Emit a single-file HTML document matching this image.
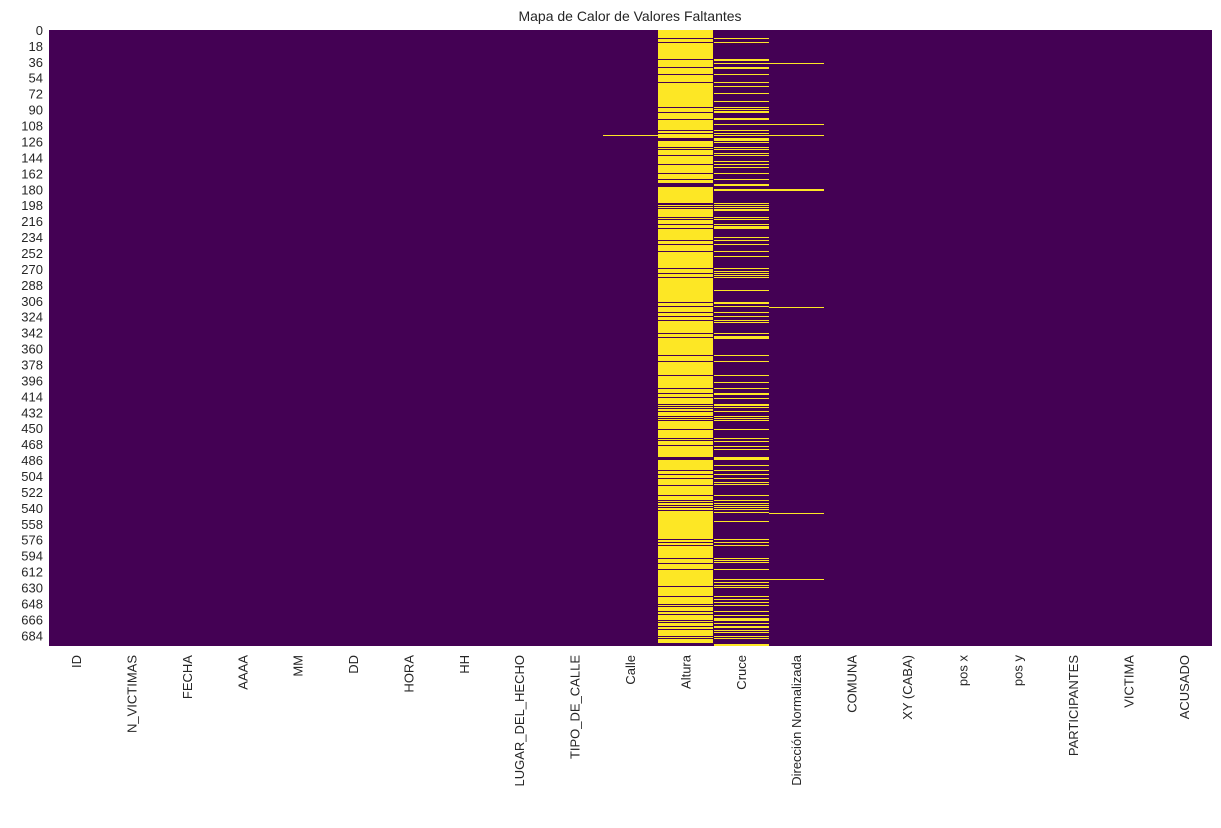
<!DOCTYPE html>
<html><head><meta charset="utf-8"><style>
body{margin:0;background:#fff;width:1221px;height:823px;overflow:hidden;font-family:"Liberation Sans",sans-serif}
#g rect{shape-rendering:crispEdges}
</style></head><body>
<svg id="s" width="1221" height="823" xmlns="http://www.w3.org/2000/svg" font-family="Liberation Sans, sans-serif" font-size="13" fill="#262626">
<text x="630" y="21" text-anchor="middle" font-size="14">Mapa de Calor de Valores Faltantes</text>
<rect x="49" y="30" width="1163" height="616" fill="#440154" shape-rendering="crispEdges"/>
<rect x="658" y="30" width="55" height="616" fill="#fde725" shape-rendering="crispEdges"/>
<g id="g"></g>
</svg>
<script>
var ns="http://www.w3.org/2000/svg",svg=document.getElementById('s'),g=document.getElementById('g');
function r(x,y,w,h,c){var e=document.createElementNS(ns,'rect');var yy=Math.round(y),hh=Math.max(1,Math.round(y+h)-yy);e.setAttribute('x',Math.round(x));e.setAttribute('y',yy);e.setAttribute('width',Math.round(x+w)-Math.round(x));e.setAttribute('height',hh);e.setAttribute('fill',c);g.appendChild(e);}
function t(x,y,s,a,rot){var e=document.createElementNS(ns,'text');e.setAttribute('x',x);e.setAttribute('y',y);e.setAttribute('text-anchor',a);if(rot)e.setAttribute('transform',rot);e.textContent=s;svg.appendChild(e);}
var P='#440154',Y='#fde725',cw=1163/21,ax=49+cw*11,cx=49+cw*12,dx=49+cw*13;
var gaps=[38.3,42,59.3,67.3,74,82.3,107.3,112,119.3,130.3,133.7,[138,140.7],147.7,149.3,155,164,173.3,179.3,[183.3,186.7],203,204.3,206.7,208.7,217.3,219.3,224.3,228.3,240,244,251,268.3,273,277,302.7,306,312,316,320.7,333.3,337.3,355.3,361.3,375.3,388.3,393.3,397.3,404.7,406.3,408.3,411,416.7,418.7,420.7,429.3,438.7,440.7,445.7,[456.7,460],470,474,478.3,485.3,495,500.7,502.7,505,507.3,510,539.3,542,545.7,558.3,563.3,569.3,586,596.7,604,606,611.7,614.3,620.7,622.7,626.7,629,636,638.3,[643.3,646]];
gaps.forEach(function(v){if(v.length)r(ax,v[0],cw,v[1]-v[0],P);else r(ax,v-0.5,cw,1,P);});
var cr=[38.3,42.3,59.3,60.7,63.3,[67.3,68.7],74,82.3,86.3,93,101.3,107.3,109.3,111,112.3,[118.3,119.7],124.3,130.3,133.3,135.3,[138.3,140.7],142.3,147.3,149.3,153.3,155.3,161.7,164.3,167.3,173.3,179.3,[184,186.3],[189.3,190.7],203,205,207.3,209,210.3,217.3,219,224,[226,228.7],237.3,240,244,251,256,268.3,271,273,275,277.3,290,[302,303.7],306,312.3,316,320,322,333.3,[336,338.7],355.3,361.3,375.3,382.3,388.3,[393,395.3],398.3,404,405.7,407.3,411,416.3,418,420,429.3,438.3,441,446.3,449,[457,459.7],465.3,470,474,478,482.3,484.3,495,500,503.3,505,507.3,509.3,[511.7,513.3],521.3,539.3,542,545.3,558.3,560,562.3,569.3,579.3,582.3,585,587.3,596.7,599.3,602.7,605.3,611.7,615,[618.3,620.7],623.3,[626,627.7],630,632,636,638,[644,645.7]];
cr.forEach(function(v){if(v.length)r(cx,v[0],cw,v[1]-v[0],Y);else r(cx,v-0.5,cw,1,Y);});
[63.3,124.3,135.3,307.3,513.3,579.3].forEach(function(v){r(dx,v-0.5,cw,1,Y);});
r(dx,188.8,cw,2,Y);
r(49+cw*10,134.8,cw,1,Y);
for(var k=0;k<39;k++){var y=30+(k*18+0.5)*616/696;t(43,y+4.5,String(k*18),'end');}
var cols=["ID","N_VICTIMAS","FECHA","AAAA","MM","DD","HORA","HH","LUGAR_DEL_HECHO","TIPO_DE_CALLE","Calle","Altura","Cruce","Dirección Normalizada","COMUNA","XY (CABA)","pos x","pos y","PARTICIPANTES","VICTIMA","ACUSADO"];
cols.forEach(function(c,i){var x=49+cw*(i+0.5)+4.5;t(x,655,c,'end','rotate(-90 '+x+' 655)');});
</script>
</body></html>
